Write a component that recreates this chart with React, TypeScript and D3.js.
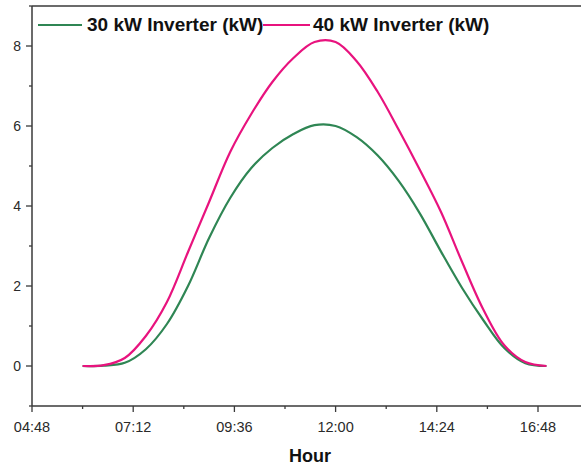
import React from "react";
import * as d3 from "d3";

const hours = [
  "06:00", "06:30", "07:00", "07:30", "08:00", "08:30", "09:00", "09:30",
  "10:00", "10:30", "11:00", "11:30", "12:00", "12:30", "13:00", "13:30",
  "14:00", "14:30", "15:00", "15:30", "16:00", "16:30", "17:00",
];
const inverter30 = [
  0, 0.01, 0.08, 0.42, 1.05, 2.0, 3.2, 4.2,
  4.95, 5.45, 5.8, 6.02, 6.0, 5.72, 5.26, 4.62,
  3.81, 2.86, 1.95, 1.15, 0.45, 0.07, 0,
];
const inverter40 = [
  0, 0.02, 0.2, 0.75, 1.6, 2.85, 4.1, 5.35,
  6.3, 7.1, 7.7, 8.1, 8.1, 7.62, 6.85, 5.9,
  4.9, 3.85, 2.6, 1.42, 0.52, 0.1, 0,
];
const seriesNames = ["30 kW Inverter (kW)", "40 kW Inverter (kW)"];
const seriesColors = ["#2f8654", "#e8137e"];
const xTickLabels = ["04:48", "07:12", "09:36", "12:00", "14:24", "16:48"];
const yTicks = [0, 2, 4, 6, 8];
const yMinorTicks = [-1, 1, 3, 5, 7, 9];

const toMin = (s: string) => {
  const [h, m] = s.split(":").map(Number);
  return h * 60 + m;
};

export default function App() {
  const W = 581, H = 467;
  const left = 32, top = 6, bottom = 406;
  const x = d3.scaleLinear().domain([288, 1080]).range([left, 588.6]);
  const y = d3.scaleLinear().domain([-1, 9]).range([bottom, top]);
  const axisColor = "#3a3a3a";
  const textColor = "#2a2a2a";
  const font = "'Liberation Sans', Arial, sans-serif";

  const xMajor = xTickLabels.map(toMin);
  const xMinor = xMajor.map((v) => v + 72);

  const line = d3
    .line<[number, number]>()
    .x((d) => x(d[0]))
    .y((d) => y(d[1]))
    .curve(d3.curveCatmullRom.alpha(0.5));

  const series = [inverter30, inverter40].map((vals) =>
    vals.map((v, i) => [toMin(hours[i]), v] as [number, number])
  );

  return (
    <svg
      width={W}
      height={H}
      style={{ position: "absolute", left: 0, top: 0, background: "#fff" }}
      fontFamily={font}
    >
      <rect x={0} y={0} width={W} height={H} fill="#fff" />
      {series.map((s, i) => (
        <path
          key={i}
          d={line(s) || ""}
          fill="none"
          stroke={seriesColors[i]}
          strokeWidth={2.2}
        />
      ))}
      <line x1={left} x2={W} y1={top} y2={top} stroke={axisColor} strokeWidth={1.5} />
      <line x1={left} x2={left} y1={top} y2={bottom} stroke={axisColor} strokeWidth={1.5} />
      {yTicks.map((t) => (
        <g key={"yt" + t}>
          <line x1={left - 6} x2={left} y1={y(t)} y2={y(t)} stroke={axisColor} strokeWidth={1.3} />
          <text
            x={left - 11}
            y={y(t)}
            dy="0.35em"
            textAnchor="end"
            fontSize={14}
            fill={textColor}
          >
            {t}
          </text>
        </g>
      ))}
      {yMinorTicks.map((t) => (
        <line key={"ym" + t} x1={left - 3} x2={left} y1={y(t)} y2={y(t)} stroke={axisColor} strokeWidth={1.3} />
      ))}
      <line x1={left} x2={W} y1={bottom} y2={bottom} stroke={axisColor} strokeWidth={1.5} />
      {xMajor.map((t, i) => (
        <g key={"xt" + t}>
          <line x1={x(t)} x2={x(t)} y1={bottom} y2={bottom + 6} stroke={axisColor} strokeWidth={1.3} />
          <text
            x={x(t)}
            y={bottom + 26}
            textAnchor="middle"
            fontSize={14.5}
            fill={textColor}
          >
            {xTickLabels[i]}
          </text>
        </g>
      ))}
      {xMinor.map((t) => (
        <line key={"xm" + t} x1={x(t)} x2={x(t)} y1={bottom} y2={bottom + 3} stroke={axisColor} strokeWidth={1.3} />
      ))}
      <text
        x={310}
        y={462}
        textAnchor="middle"
        fontSize={18}
        fontWeight="bold"
        fill="#111"
      >
        Hour
      </text>
      <line x1={38} x2={82} y1={25} y2={25} stroke={seriesColors[0]} strokeWidth={2.2} />
      <text x={87} y={31} fontSize={19} fontWeight="bold" fill="#111">
        {seriesNames[0]}
      </text>
      <line x1={263} x2={310} y1={25} y2={25} stroke={seriesColors[1]} strokeWidth={2.2} />
      <text x={313} y={31} fontSize={19} fontWeight="bold" fill="#111">
        {seriesNames[1]}
      </text>
    </svg>
  );
}
